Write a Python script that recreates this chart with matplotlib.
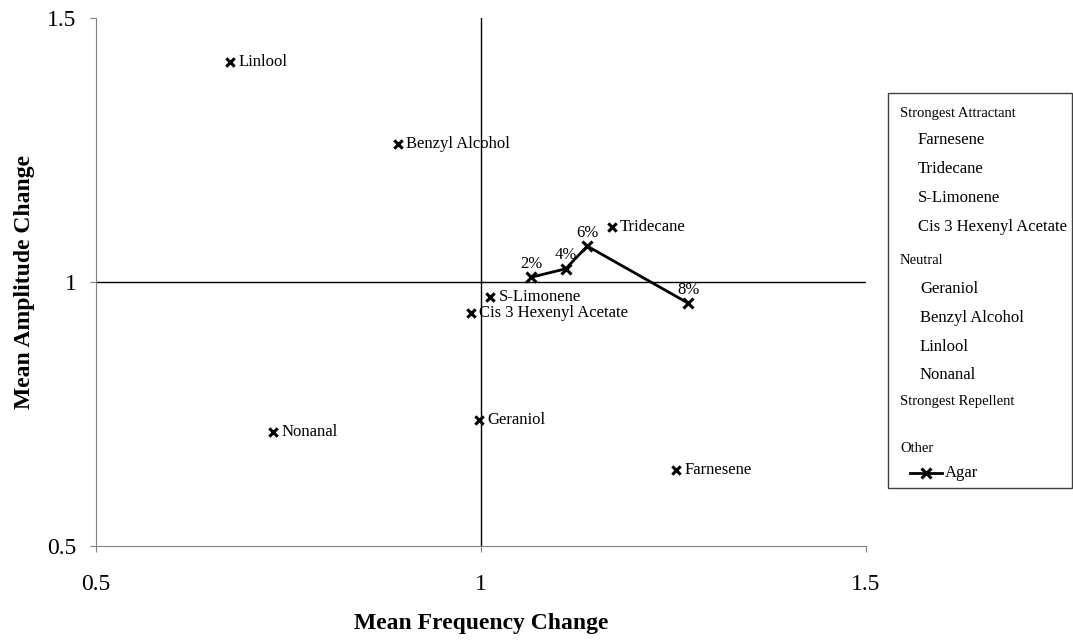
import matplotlib.pyplot as plt
from matplotlib.patches import Rectangle
from matplotlib.lines import Line2D

plt.rcParams['font.family'] = ['Liberation Serif', 'DejaVu Serif']

# compounds: (name, mean frequency change, mean amplitude change)
names = ['Linlool', 'Benzyl Alcohol', 'Tridecane', 'S-Limonene',
         'Cis 3 Hexenyl Acetate', 'Geraniol', 'Nonanal', 'Farnesene']
freq = [0.674, 0.892, 1.170, 1.012, 0.987, 0.997, 0.730, 1.253]
amp = [1.417, 1.261, 1.104, 0.972, 0.941, 0.739, 0.716, 0.644]

# agar concentrations
agar_labels = ['2%', '4%', '6%', '8%']
agar_freq = [1.065, 1.110, 1.138, 1.269]
agar_amp = [1.009, 1.025, 1.068, 0.960]

W, H = 1073, 643
fig = plt.figure(figsize=(W / 100, H / 100), dpi=100)
ax = fig.add_axes([96 / W, 1 - 546 / H, 770 / W, 528 / H])

ax.set_xlim(0.5, 1.5)
ax.set_ylim(0.5, 1.5)
ax.set_xticks([0.5, 1, 1.5])
ax.set_yticks([0.5, 1, 1.5])
ax.set_xticklabels(['0.5', '1', '1.5'])
ax.set_yticklabels(['0.5', '1', '1.5'])
ax.tick_params(labelsize=17, length=4, color='#808080')
ax.tick_params(axis='x', pad=16)
ax.tick_params(axis='y', pad=10)
for s in ['top', 'right']:
    ax.spines[s].set_visible(False)
for s in ['left', 'bottom']:
    ax.spines[s].set_color('#808080')

ax.axhline(1, color='black', lw=1, zorder=1)
ax.axvline(1, color='black', lw=1, zorder=1)

ax.scatter(freq, amp, marker='x', s=36, linewidths=2.2, color='black', zorder=3)
for n, x, y in zip(names, freq, amp):
    ax.annotate(n, (x, y), xytext=(6, 0), textcoords='offset points',
                fontsize=12, va='center', ha='left')

ax.plot(agar_freq, agar_amp, color='black', lw=2, marker='x', ms=7, mew=2.2, zorder=3)
for lab, x, y in zip(agar_labels, agar_freq, agar_amp):
    ax.annotate(lab, (x, y), xytext=(0, 4), textcoords='offset points',
                fontsize=12, va='bottom', ha='center')

ax.set_xlabel('Mean Frequency Change', fontsize=17, fontweight='bold', labelpad=13)
ax.set_ylabel('Mean Amplitude Change', fontsize=17, fontweight='bold', labelpad=9)


def fp(x, y):
    return x / W, 1 - y / H


# legend box drawn by hand
x0, y0 = fp(888, 488)
x1, y1 = fp(1072, 93)
fig.patches.append(Rectangle((x0, y0), x1 - x0, y1 - y0, transform=fig.transFigure,
                             fill=False, edgecolor='#404040', lw=1))

legend_rows = [
    ('Strongest Attractant', 900, 113, 10.5),
    ('Farnesene', 918, 140, 12),
    ('Tridecane', 918, 169, 12),
    ('S-Limonene', 918, 198, 12),
    ('Cis 3 Hexenyl Acetate', 918, 227, 12),
    ('Neutral', 900, 260, 10.5),
    ('Geraniol', 920, 289, 12),
    ('Benzyl Alcohol', 920, 318, 12),
    ('Linlool', 920, 347, 12),
    ('Nonanal', 920, 375, 12),
    ('Strongest Repellent', 900, 402, 10.5),
    ('Other', 900, 448, 10.5),
    ('Agar', 945, 473, 12),
]
for txt, x, y, fs in legend_rows:
    fx, fy = fp(x, y)
    fig.text(fx, fy, txt, fontsize=fs, va='center', ha='left')

lx0, ly = fp(910, 473)
lx1, _ = fp(942, 473)
fig.lines.append(Line2D([lx0, lx1], [ly, ly], transform=fig.transFigure,
                        color='black', lw=2))
fig.lines.append(Line2D([(lx0 + lx1) / 2], [ly], transform=fig.transFigure,
                        color='black', marker='x', ms=7, mew=2.2))

fig.savefig('out.png', dpi=100)
